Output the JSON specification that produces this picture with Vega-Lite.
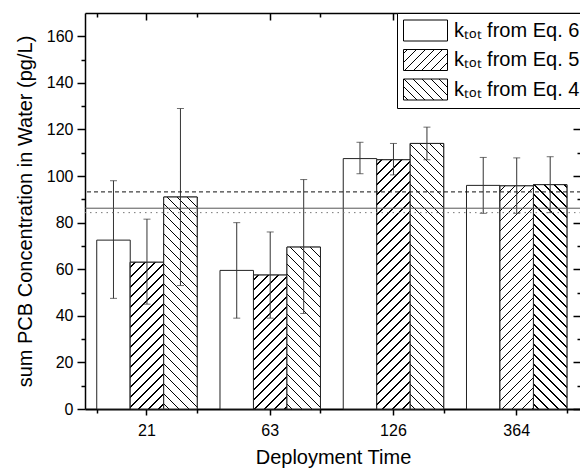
{
  "$schema": "https://vega.github.io/schema/vega-lite/v6.json",
  "width": 496,
  "height": 396,
  "autosize": {"type": "none"},
  "padding": {"left": 85, "top": 13, "right": 0, "bottom": 61},
  "background": "white",
  "params": [
    {"name": "hatch", "value": [
      {"offset":0.01344,"color":"#fff"},{"offset":0.01344,"color":"#000"},{"offset":0.01781,"color":"#000"},{"offset":0.01781,"color":"#fff"},
      {"offset":0.04469,"color":"#fff"},{"offset":0.04469,"color":"#000"},{"offset":0.04906,"color":"#000"},{"offset":0.04906,"color":"#fff"},
      {"offset":0.07594,"color":"#fff"},{"offset":0.07594,"color":"#000"},{"offset":0.08031,"color":"#000"},{"offset":0.08031,"color":"#fff"},
      {"offset":0.10719,"color":"#fff"},{"offset":0.10719,"color":"#000"},{"offset":0.11156,"color":"#000"},{"offset":0.11156,"color":"#fff"},
      {"offset":0.13844,"color":"#fff"},{"offset":0.13844,"color":"#000"},{"offset":0.14281,"color":"#000"},{"offset":0.14281,"color":"#fff"},
      {"offset":0.16969,"color":"#fff"},{"offset":0.16969,"color":"#000"},{"offset":0.17406,"color":"#000"},{"offset":0.17406,"color":"#fff"},
      {"offset":0.20094,"color":"#fff"},{"offset":0.20094,"color":"#000"},{"offset":0.20531,"color":"#000"},{"offset":0.20531,"color":"#fff"},
      {"offset":0.23219,"color":"#fff"},{"offset":0.23219,"color":"#000"},{"offset":0.23656,"color":"#000"},{"offset":0.23656,"color":"#fff"},
      {"offset":0.26344,"color":"#fff"},{"offset":0.26344,"color":"#000"},{"offset":0.26781,"color":"#000"},{"offset":0.26781,"color":"#fff"},
      {"offset":0.29469,"color":"#fff"},{"offset":0.29469,"color":"#000"},{"offset":0.29906,"color":"#000"},{"offset":0.29906,"color":"#fff"},
      {"offset":0.32594,"color":"#fff"},{"offset":0.32594,"color":"#000"},{"offset":0.33031,"color":"#000"},{"offset":0.33031,"color":"#fff"},
      {"offset":0.35719,"color":"#fff"},{"offset":0.35719,"color":"#000"},{"offset":0.36156,"color":"#000"},{"offset":0.36156,"color":"#fff"},
      {"offset":0.38844,"color":"#fff"},{"offset":0.38844,"color":"#000"},{"offset":0.39281,"color":"#000"},{"offset":0.39281,"color":"#fff"},
      {"offset":0.41969,"color":"#fff"},{"offset":0.41969,"color":"#000"},{"offset":0.42406,"color":"#000"},{"offset":0.42406,"color":"#fff"},
      {"offset":0.45094,"color":"#fff"},{"offset":0.45094,"color":"#000"},{"offset":0.45531,"color":"#000"},{"offset":0.45531,"color":"#fff"},
      {"offset":0.48219,"color":"#fff"},{"offset":0.48219,"color":"#000"},{"offset":0.48656,"color":"#000"},{"offset":0.48656,"color":"#fff"},
      {"offset":0.51344,"color":"#fff"},{"offset":0.51344,"color":"#000"},{"offset":0.51781,"color":"#000"},{"offset":0.51781,"color":"#fff"},
      {"offset":0.54469,"color":"#fff"},{"offset":0.54469,"color":"#000"},{"offset":0.54906,"color":"#000"},{"offset":0.54906,"color":"#fff"},
      {"offset":0.57594,"color":"#fff"},{"offset":0.57594,"color":"#000"},{"offset":0.58031,"color":"#000"},{"offset":0.58031,"color":"#fff"},
      {"offset":0.60719,"color":"#fff"},{"offset":0.60719,"color":"#000"},{"offset":0.61156,"color":"#000"},{"offset":0.61156,"color":"#fff"},
      {"offset":0.63844,"color":"#fff"},{"offset":0.63844,"color":"#000"},{"offset":0.64281,"color":"#000"},{"offset":0.64281,"color":"#fff"},
      {"offset":0.66969,"color":"#fff"},{"offset":0.66969,"color":"#000"},{"offset":0.67406,"color":"#000"},{"offset":0.67406,"color":"#fff"},
      {"offset":0.70094,"color":"#fff"},{"offset":0.70094,"color":"#000"},{"offset":0.70531,"color":"#000"},{"offset":0.70531,"color":"#fff"},
      {"offset":0.73219,"color":"#fff"},{"offset":0.73219,"color":"#000"},{"offset":0.73656,"color":"#000"},{"offset":0.73656,"color":"#fff"},
      {"offset":0.76344,"color":"#fff"},{"offset":0.76344,"color":"#000"},{"offset":0.76781,"color":"#000"},{"offset":0.76781,"color":"#fff"},
      {"offset":0.79469,"color":"#fff"},{"offset":0.79469,"color":"#000"},{"offset":0.79906,"color":"#000"},{"offset":0.79906,"color":"#fff"},
      {"offset":0.82594,"color":"#fff"},{"offset":0.82594,"color":"#000"},{"offset":0.83031,"color":"#000"},{"offset":0.83031,"color":"#fff"},
      {"offset":0.85719,"color":"#fff"},{"offset":0.85719,"color":"#000"},{"offset":0.86156,"color":"#000"},{"offset":0.86156,"color":"#fff"},
      {"offset":0.88844,"color":"#fff"},{"offset":0.88844,"color":"#000"},{"offset":0.89281,"color":"#000"},{"offset":0.89281,"color":"#fff"},
      {"offset":0.91969,"color":"#fff"},{"offset":0.91969,"color":"#000"},{"offset":0.92406,"color":"#000"},{"offset":0.92406,"color":"#fff"},
      {"offset":0.95094,"color":"#fff"},{"offset":0.95094,"color":"#000"},{"offset":0.95531,"color":"#000"},{"offset":0.95531,"color":"#fff"},
      {"offset":0.98219,"color":"#fff"},{"offset":0.98219,"color":"#000"},{"offset":0.98656,"color":"#000"},{"offset":0.98656,"color":"#fff"}
    ]}
  ],
  "datasets": {
    "bars": [
      {"time":"21","series":"Eq. 6","value":72.5,"lo":47.5,"hi":98},
      {"time":"21","series":"Eq. 5","value":63,"lo":45,"hi":81.5},
      {"time":"21","series":"Eq. 4","value":91,"lo":53,"hi":129},
      {"time":"63","series":"Eq. 6","value":59.5,"lo":39,"hi":80},
      {"time":"63","series":"Eq. 5","value":57.5,"lo":39,"hi":76},
      {"time":"63","series":"Eq. 4","value":69.5,"lo":41,"hi":98.5},
      {"time":"126","series":"Eq. 6","value":107.5,"lo":101,"hi":114.5},
      {"time":"126","series":"Eq. 5","value":107,"lo":100.5,"hi":114},
      {"time":"126","series":"Eq. 4","value":114,"lo":107,"hi":121},
      {"time":"364","series":"Eq. 6","value":96,"lo":84,"hi":108},
      {"time":"364","series":"Eq. 5","value":95.8,"lo":84,"hi":107.8},
      {"time":"364","series":"Eq. 4","value":96.3,"lo":84.3,"hi":108.3}
    ]
  },
  "config": {
    "view": {"stroke": null},
    "font": "Liberation Sans",
    "axis": {
      "grid": false,
      "domainColor": "#000",
      "tickColor": "#000",
      "labelColor": "#000",
      "titleColor": "#000",
      "labelFont": "Liberation Sans",
      "titleFont": "Liberation Sans",
      "titleFontWeight": "normal",
      "tickWidth": 1.5,
      "domainWidth": 1.5
    }
  },
  "layer": [
    {
      "data": {"name": "bars"},
      "mark": {"type": "bar", "stroke": "#222", "strokeWidth": 1},
      "encoding": {
        "x": {"field": "time", "type": "nominal", "sort": ["21","63","126","364"],
              "scale": {"type": "band", "paddingInner": 0.185, "paddingOuter": 0.1047, "align": 0.455},
              "axis": {"orient": "bottom", "tickSize": 6, "domainWidth": 2, "labelFontSize": 16, "labelAngle": 0, "labelPadding": 7, "title": "Deployment Time", "titleFontSize": 20, "titlePadding": 9}},
        "xOffset": {"field": "series", "type": "nominal", "sort": ["Eq. 6","Eq. 5","Eq. 4"], "scale": {"paddingInner": 0, "paddingOuter": 0}},
        "y": {"field": "value", "type": "quantitative", "scale": {"domain": [0,170], "nice": false},
              "axis": {"orient": "left", "values": [0,20,40,60,80,100,120,140,160], "tickSize": 8, "labelFontSize": 16, "labelPadding": 4, "title": "sum PCB Concentration in Water (pg/L)", "titleFontSize": 20, "titlePadding": 11}},
        "fill": {"field": "series", "type": "nominal",
                 "scale": {"domain": ["Eq. 6","Eq. 5","Eq. 4"], "range": [
                   "#fff",
                   {"expr": "{gradient: 'linear', x1: 0, y1: 0, x2: 5.183, y2: 2.474, stops: hatch}"},
                   {"expr": "{gradient: 'linear', x1: 0, y1: 1, x2: 5.183, y2: -1.474, stops: hatch}"}
                 ]},
                 "legend": {
                   "orient": "none", "legendX": 312, "legendY": 0, "title": null,
                   "symbolType": "M-2,-0.9545H2V0.9545H-2Z", "symbolSize": 484, "symbolOffset": 11,
                   "symbolStrokeColor": "#000", "symbolStrokeWidth": 1,
                   "labelFontSize": 20, "labelFont": "Liberation Sans", "labelColor": "#000", "labelOffset": 17, "labelLimit": 0,
                   "labelExpr": "'kₜₒₜ from ' + datum.label",
                   "padding": 6, "rowPadding": 4.5, "strokeColor": "#000", "fillColor": "#fff"
                 }}
      }
    },
    {
      "data": {"name": "bars"},
      "transform": [{"filter": "datum.series !== 'Eq. 6'"}],
      "mark": {"type": "bar", "stroke": "#222", "strokeWidth": 1,
               "fill": {"expr": "datum.series === 'Eq. 5' ? {gradient: 'linear', x1: 0, y1: 0, x2: 9.557/(1+pow(datum.value*height/5692.1,2)), y2: 9.557*datum.value*height/5692.1/(1+pow(datum.value*height/5692.1,2)), stops: hatch} : {gradient: 'linear', x1: 0, y1: 1, x2: 9.557/(1+pow(datum.value*height/5692.1,2)), y2: 1-9.557*datum.value*height/5692.1/(1+pow(datum.value*height/5692.1,2)), stops: hatch}"}},
      "encoding": {
        "x": {"field": "time", "type": "nominal", "sort": ["21","63","126","364"],
              "scale": {"type": "band", "paddingInner": 0.185, "paddingOuter": 0.1047, "align": 0.455},
              "axis": {"orient": "bottom", "tickBand": "extent", "tickSize": 4, "labels": false, "domain": false, "title": null}},
        "xOffset": {"field": "series", "type": "nominal", "sort": ["Eq. 6","Eq. 5","Eq. 4"], "scale": {"paddingInner": 0, "paddingOuter": 0}},
        "y": {"field": "value", "type": "quantitative", "scale": {"domain": [0,170], "nice": false},
              "axis": {"orient": "left", "values": [10,30,50,70,90,110,130,150], "tickSize": 4, "labels": false, "domain": false, "title": null}}
      }
    },
    {
      "data": {"name": "bars"},
      "mark": {"type": "rule", "color": "#333", "strokeWidth": 1},
      "encoding": {
        "x": {"field": "time", "type": "nominal", "sort": ["21","63","126","364"],
              "scale": {"type": "band", "paddingInner": 0.185, "paddingOuter": 0.1047, "align": 0.455},
              "axis": {"orient": "top", "tickSize": -7, "labels": false, "title": null}},
        "xOffset": {"field": "series", "type": "nominal", "sort": ["Eq. 6","Eq. 5","Eq. 4"], "scale": {"paddingInner": 0, "paddingOuter": 0}},
        "y": {"field": "lo", "type": "quantitative", "scale": {"domain": [0,170], "nice": false},
              "axis": {"orient": "right", "values": [0,20,40,60,80,100,120,140,160], "tickSize": -8, "labels": false, "title": null}},
        "y2": {"field": "hi"}
      }
    },
    {
      "data": {"name": "bars"},
      "transform": [{"fold": ["lo","hi"], "as": ["end","v"]}],
      "mark": {"type": "tick", "color": "#333", "thickness": 1, "size": 7, "orient": "horizontal"},
      "encoding": {
        "x": {"field": "time", "type": "nominal", "sort": ["21","63","126","364"],
              "scale": {"type": "band", "paddingInner": 0.185, "paddingOuter": 0.1047, "align": 0.455},
              "axis": {"orient": "top", "tickBand": "extent", "tickSize": -4, "labels": false, "domain": false, "title": null}},
        "xOffset": {"field": "series", "type": "nominal", "sort": ["Eq. 6","Eq. 5","Eq. 4"], "scale": {"paddingInner": 0, "paddingOuter": 0}},
        "y": {"field": "v", "type": "quantitative", "scale": {"domain": [0,170], "nice": false},
              "axis": {"orient": "right", "values": [10,30,50,70,90,110,130,150], "tickSize": -4, "labels": false, "domain": false, "title": null}}
      }
    },
    {
      "data": {"values": [{"level": 86.2}]},
      "mark": {"type": "rule", "color": "#555", "strokeWidth": 1},
      "encoding": {"y": {"field": "level", "type": "quantitative", "scale": {"domain": [0,170], "nice": false}, "axis": null}}
    },
    {
      "data": {"values": [{"level": 93.2}]},
      "mark": {"type": "rule", "color": "#111", "strokeWidth": 1, "strokeDash": [4,3]},
      "encoding": {"y": {"field": "level", "type": "quantitative", "scale": {"domain": [0,170], "nice": false}, "axis": null}}
    },
    {
      "data": {"values": [{"level": 84.3}]},
      "mark": {"type": "rule", "color": "#777", "strokeWidth": 1, "strokeDash": [1.5,4]},
      "encoding": {"y": {"field": "level", "type": "quantitative", "scale": {"domain": [0,170], "nice": false}, "axis": null}}
    }
  ],
  "resolve": {"axis": {"x": "independent", "y": "independent"}}
}
